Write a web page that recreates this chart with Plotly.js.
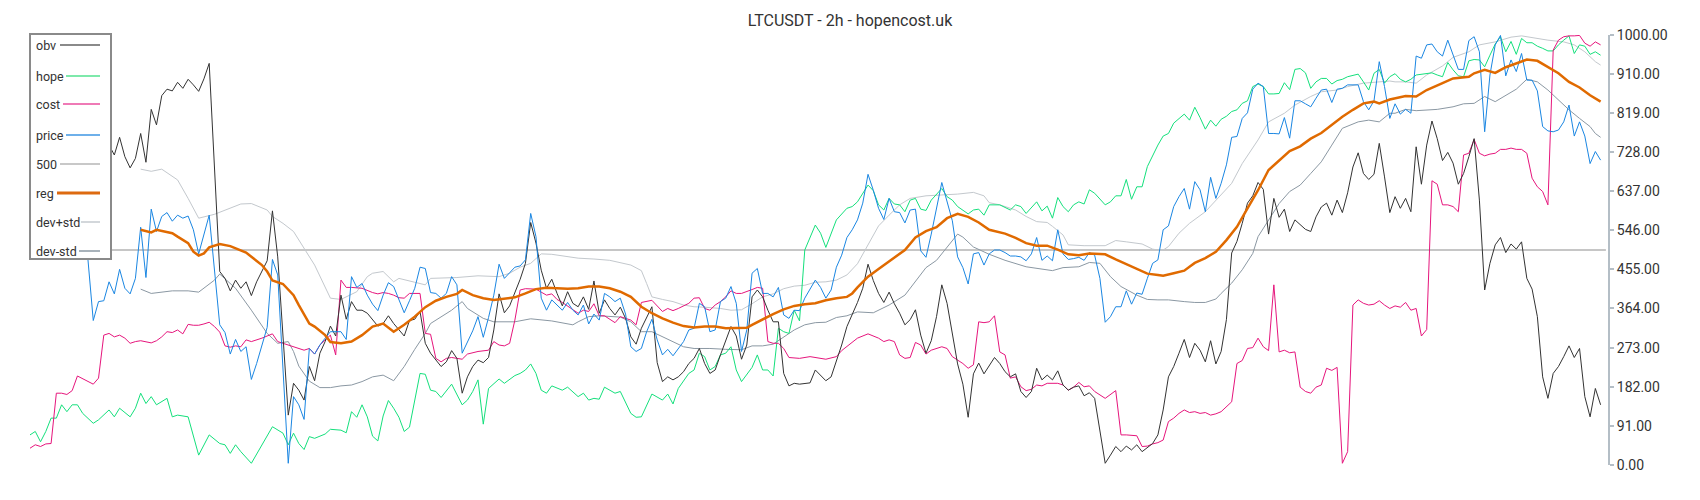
<!DOCTYPE html>
<html>
<head>
<meta charset="utf-8">
<script src="https://cdn.plot.ly/plotly-3.0.1.min.js"></script>
<style>html,body{margin:0;padding:0;background:#fff;}#chart{width:1700px;height:500px;}</style>
</head>
<body>
<div id="chart"></div>
<script>
// ---- data (x = bar index of the 2h series, y = normalised value 0..1000) ----
const obvIdx = [15,16,17,18,19,20,21,22,23,24,25,26,27,28,29,30,31,32,33,34,36,37,38,39,40,41,42,43,45,46,47,49,50,
51,52,53,54,55,56,57,58,59,60,61,62,63,64,65,66,67,68,69,70,71,72,73,74,75,76,77,78,79,80,81,82,83,84,85,86,87,88,89,90,91,92,93,94,95,96,97,98,99,100,101,102,103,
104,105,106,107,108,109,110,111,112,113,114,115,116,117,118,119,120,121,122,123,124,125,126,127,128,129,130,131,132,133,134,135,136,137,138,139,140,141,142,143,144,145,146,147,148,149,150,151,152,153,154,155,156,
157,158,159,160,161,162,163,164,165,166,167,168,169,170,171,172,173,174,175,176,177,178,179,180,181,182,183,184,185,186,187,188,189,190,191,192,193,194,195,196,197,198,199,200,201,202,204,205,206,207,208,209,
210,211,212,213,214,215,216,217,218,219,220,221,222,223,224,225,226,227,228,229,230,231,232,233,234,235,236,237,238,239,240,241,242,243,244,245,246,247,248,249,250,251,252,253,254,255,256,257,258,
259,260,261,262,263,264,265,266,267,268,269,270,271,272,273,274,275,276,277,278,279,280,281,282,283,284,285,286,287,288,289,290,291,292,293,294,295,296,297,298];
const obvVal = [744,721,762,717,691,713,771,704,827,791,859,874,870,890,876,897,884,869,898,934,450,434,405,430,411,426,394,426,475,591,484,116,190,
174,151,229,196,260,287,323,300,395,339,380,360,360,353,337,323,329,347,329,314,300,336,339,357,283,260,244,229,240,266,248,167,205,229,244,238,250,314,398,354,370,399,432,469,564,516,453,411,432,399,370,403,376,
368,391,362,428,353,384,364,349,367,341,298,281,318,345,368,238,194,205,198,205,217,236,248,271,236,213,221,256,287,322,300,246,279,391,407,391,360,333,333,213,184,190,188,190,191,221,209,196,205,240,279,322,349,
378,411,467,429,399,378,402,375,353,326,338,361,302,260,289,345,419,376,310,235,188,111,212,237,212,231,250,236,217,205,212,171,157,171,225,198,209,198,219,186,174,181,184,161,168,155,4,23,43,31,44,35,
47,31,41,50,70,128,205,229,260,292,250,283,267,240,289,235,264,338,493,520,562,609,626,657,641,537,620,576,595,543,570,558,548,543,577,600,609,581,616,587,633,693,726,678,664,676,748,670,587,
624,597,620,589,740,653,744,800,759,708,727,702,653,678,717,759,616,407,469,512,529,494,514,502,519,434,409,345,205,155,213,229,252,277,250,271,159,112,178,140];

const hopeIdx = [0,1,2,3,4,5,6,7,8,9,10,12,13,15,16,17,19,20,21,22,23,24,26,27,28,30,32,34,36,37,38,39,40,42,46,48,49,50,
51,52,53,54,56,57,59,60,61,62,63,64,65,66,67,68,69,70,71,72,74,75,76,77,78,80,82,83,84,85,86,87,89,90,92,93,94,95,96,97,98,99,101,102,
104,105,106,107,108,109,111,112,114,115,116,118,120,121,122,123,125,126,127,128,129,130,131,132,133,134,135,137,138,139,140,141,142,143,144,145,146,147,149,150,151,153,155,156,
157,158,159,160,161,162,163,164,165,166,167,168,169,170,171,173,174,175,176,178,179,180,181,182,184,186,187,188,189,191,192,193,194,195,196,197,198,199,200,201,202,204,205,206,207,208,209,
210,211,212,213,214,215,216,217,218,219,220,221,222,223,224,225,226,227,228,229,230,231,232,233,234,235,236,237,238,239,240,241,242,243,244,245,246,247,248,249,250,252,253,254,255,256,257,258,
259,260,261,262,263,264,265,266,267,268,269,270,271,272,273,274,275,276,277,278,279,280,281,282,283,284,285,286,287,288,289,290,291,292,293,294,295,296,297,298];
const hopeVal = [70,78,54,78,109,109,140,124,140,140,120,97,105,128,112,132,112,132,167,143,159,140,155,112,116,112,23,70,50,47,27,47,31,4,89,74,47,74,
50,36,66,62,72,83,81,75,124,111,140,112,67,56,114,150,132,111,78,88,213,211,174,171,157,188,140,151,171,198,95,178,200,190,208,213,221,235,213,174,167,184,174,181,
159,167,151,155,153,181,167,171,120,111,112,165,151,165,142,178,213,221,260,252,221,229,256,260,275,221,194,227,256,221,221,207,318,310,306,360,335,500,558,539,506,570,597,601,
612,632,651,638,605,593,620,607,605,589,616,620,595,592,616,643,624,616,601,584,593,595,581,605,605,593,605,601,585,612,591,602,574,622,601,589,605,612,607,640,632,605,612,626,626,664,618,
647,647,694,721,744,765,771,795,805,816,802,832,808,781,802,788,804,811,822,826,841,847,880,886,880,863,863,864,889,873,920,922,912,876,891,899,899,886,894,897,903,909,891,872,911,920,888,903,
910,897,891,897,907,909,911,912,907,903,936,919,905,903,940,943,942,926,953,979,996,961,985,955,992,982,982,974,969,963,963,977,988,998,957,977,974,955,961,953];

const costIdx = [0,1,2,3,4,5,6,7,8,9,12,13,14,15,16,17,18,19,20,21,23,24,25,26,27,28,29,30,31,32,33,34,35,36,37,38,39,40,41,42,44,45,46,47,49,
51,52,53,54,55,56,57,58,59,60,61,63,65,66,67,68,69,70,71,72,74,75,76,77,78,79,80,81,82,83,84,85,87,88,89,90,91,92,93,94,96,97,98,99,100,101,102,103,
104,105,106,107,108,109,111,112,114,115,116,118,120,121,122,123,125,126,127,128,129,130,131,132,133,134,135,137,138,139,140,141,142,143,144,146,148,151,153,154,
157,159,161,162,163,164,165,166,167,168,169,170,171,173,174,175,176,177,178,179,180,181,182,183,184,185,186,187,188,189,190,191,192,193,195,196,197,198,199,200,201,202,204,205,206,207,208,
210,211,212,213,214,215,216,217,218,219,220,221,222,223,224,225,226,227,228,229,230,231,232,233,234,235,236,237,238,239,240,241,242,243,244,245,246,247,248,249,250,251,252,253,254,255,256,257,258,
259,260,261,262,263,264,265,266,267,268,269,270,271,272,273,274,275,276,277,278,279,280,281,282,283,284,285,286,287,288,289,290,291,292,293,294,295,296,297,298];
const costVal = [39,47,43,49,50,167,167,164,173,207,188,202,302,306,298,302,295,283,287,289,284,289,298,310,308,314,305,327,325,325,328,332,322,309,277,274,277,275,291,287,295,300,305,287,279,
271,267,271,258,279,291,302,256,430,413,413,411,401,398,401,399,395,389,388,399,399,306,304,248,240,248,250,248,246,258,261,264,267,287,279,277,283,337,407,410,409,401,395,398,385,378,370,360,
353,360,357,375,347,347,331,345,337,326,378,383,357,364,359,364,376,388,389,364,360,372,380,391,405,399,399,408,413,411,287,283,283,271,250,248,252,246,252,266,
295,305,295,287,291,287,256,248,250,285,279,258,267,275,271,252,244,236,225,233,333,331,333,347,263,256,202,205,182,173,176,186,184,190,190,186,174,181,192,182,184,171,155,165,173,70,70,
68,43,44,49,52,58,101,109,120,128,122,124,120,122,116,119,124,136,147,236,243,271,273,295,275,266,419,263,267,261,263,181,171,167,181,186,225,220,227,4,31,372,384,376,372,374,382,372,364,
370,367,378,360,364,300,315,661,653,605,605,601,589,721,725,757,725,719,723,725,734,734,737,734,734,725,667,647,636,605,965,988,996,998,998,999,981,974,984,977];

const priceIdx = [10,11,12,13,14,15,16,17,18,19,20,21,22,23,24,25,26,27,28,29,30,31,32,34,36,37,38,39,40,41,42,43,45,46,47,49,50,
51,52,53,54,55,56,57,59,60,61,62,63,64,65,66,67,68,69,70,71,72,73,74,75,76,77,78,79,80,81,82,83,84,85,86,87,88,89,90,91,92,93,94,95,96,97,98,99,100,101,102,103,
104,105,106,107,108,109,110,111,112,113,114,115,116,117,118,119,120,121,122,123,124,125,126,127,128,129,130,131,132,133,134,135,136,137,138,139,140,141,142,143,144,145,146,147,149,150,151,152,153,154,155,156,
157,158,159,160,161,162,163,164,165,166,167,168,169,170,171,173,174,175,176,177,178,179,180,181,182,183,184,185,186,187,188,189,190,191,192,193,194,195,196,197,198,199,200,201,202,203,204,205,206,207,208,209,
210,211,212,213,214,215,216,217,218,219,220,221,222,223,224,225,226,227,228,229,230,231,232,233,234,235,236,237,238,239,240,241,242,243,244,245,246,247,248,249,250,252,253,254,255,256,257,258,
259,260,261,262,263,264,265,266,267,268,269,270,271,272,273,274,275,276,277,278,279,280,281,282,283,284,285,286,287,288,289,290,291,292,293,294,295,296,297,298];
const priceVal = [540,477,336,380,382,426,398,455,411,398,434,553,436,595,543,578,587,567,581,574,579,547,491,581,326,308,258,292,264,275,199,236,320,478,442,4,159,
140,106,271,258,279,295,310,310,292,438,413,422,395,374,359,395,424,415,385,354,382,411,460,457,401,399,388,399,438,419,260,287,312,345,297,343,395,467,434,447,460,463,477,585,531,388,360,384,372,360,378,360,
349,372,328,351,337,399,391,380,388,351,275,264,271,310,339,291,256,269,254,271,287,314,318,376,368,310,314,380,388,415,376,264,314,446,457,399,399,391,413,349,341,360,359,388,430,413,388,407,460,488,529,547,
570,609,676,639,597,571,620,589,587,563,593,595,498,483,537,657,609,568,484,459,421,491,494,465,491,500,500,494,486,486,484,475,491,529,476,486,475,547,491,478,480,483,476,494,488,434,332,345,368,368,405,374,
400,397,434,469,477,547,556,601,624,643,595,659,640,589,669,620,655,698,762,764,806,819,874,888,880,771,771,770,808,760,847,847,840,833,853,872,874,843,874,876,884,884,845,826,847,938,880,806,
840,816,827,818,951,946,977,979,961,951,988,953,920,920,987,996,961,775,907,977,999,905,942,915,957,895,895,870,787,777,775,779,798,837,765,798,765,701,729,709];

const regIdx = [21,23,24,27,28,30,31,32,33,34,36,38,41,42,44,45,46,48,50,51,53,54,56,57,59,61,63,65,67,69,71,73,75,77,79,81,82,84,86,88,92,94,96,98,102,
104,106,108,110,112,114,116,118,120,122,124,126,128,130,132,134,136,137,139,141,143,145,147,149,151,153,155,156,
157,159,161,163,166,168,170,172,174,176,178,180,182,185,187,189,191,193,195,197,199,201,204,206,208,210,212,
214,215,217,219,220,221,223,225,227,229,231,233,235,237,239,241,243,245,247,249,251,253,255,256,258,
259,261,263,265,268,270,273,274,276,278,280,282,284,286,288,290,292,294,296,298];
const regVal = [547,541,547,539,531,516,496,487,492,506,514,509,494,484,465,450,429,421,395,372,329,322,302,286,283,287,302,322,329,310,326,345,367,382,391,398,407,395,388,384,390,399,409,412,410,
411,415,415,411,403,391,368,353,341,331,323,320,322,322,318,318,319,326,339,351,362,370,374,376,383,388,391,399,
413,438,456,473,500,529,544,553,574,584,577,564,547,538,528,516,510,510,501,490,488,492,490,478,467,455,445,
442,440,446,452,461,470,481,496,523,554,597,639,686,707,730,741,759,772,791,810,826,841,845,841,850,
853,858,857,872,888,899,903,911,919,912,925,934,943,940,926,911,891,878,860,845];

const devUpIdx = [21,23,25,28,30,32,35,38,40,42,45,46,48,50,51,54,57,59,62,64,65,67,69,70,73,75,76,81,85,89,91,93,95,97,99,
104,107,110,114,116,117,118,120,122,124,126,128,131,133,135,137,139,141,143,145,147,149,151,153,155,157,158,159,160,161,
163,165,167,170,173,176,179,181,182,184,187,189,191,193,194,196,197,200,204,206,208,211,213,
214,215,216,218,220,223,225,228,230,233,235,238,240,243,245,248,250,253,256,258,
259,261,263,265,268,270,273,275,278,281,283,286,288,291,293,295,297,298];
const devUpVal = [688,683,688,663,620,574,583,598,607,608,593,578,562,543,523,465,388,385,403,438,446,450,426,434,425,419,434,436,440,438,446,460,469,491,490,
481,479,476,465,452,422,391,385,380,372,368,367,364,360,361,375,391,398,410,416,418,425,426,430,442,468,490,512,535,556,
581,605,620,626,628,630,634,626,610,605,593,578,566,564,555,535,512,510,510,522,519,514,502,
500,500,508,539,562,589,616,655,701,756,798,818,837,857,868,872,880,888,891,893,
891,891,888,907,928,948,961,977,984,995,998,992,988,984,977,961,938,930];

const devDnIdx = [21,23,27,30,32,35,36,39,42,45,47,49,50,51,53,55,57,59,61,63,65,67,69,71,73,75,76,80,82,83,86,88,92,95,99,103,
104,106,108,110,112,114,116,118,120,122,124,126,129,132,135,137,139,141,143,145,147,149,151,153,155,157,
160,163,166,168,170,172,174,176,177,179,182,185,189,191,194,196,199,201,203,205,207,210,212,
214,216,219,221,223,225,226,228,230,232,233,235,237,239,241,243,245,247,249,252,254,256,258,
259,261,263,265,267,270,272,274,276,278,280,282,284,286,288,290,292,294,296,297,298];
const devDnVal = [409,399,405,405,402,430,444,411,360,306,283,287,264,230,195,180,180,184,186,194,205,209,196,229,269,306,329,360,380,364,341,333,333,340,335,326,
333,345,347,345,344,333,310,310,298,287,275,271,271,269,268,277,277,281,298,314,326,331,332,343,347,356,
354,372,395,426,459,476,507,537,530,507,490,476,461,457,452,459,461,471,469,438,415,395,385,
384,384,380,378,378,386,399,423,454,492,531,570,608,636,651,678,705,744,783,798,802,798,818,
818,827,824,826,827,833,840,841,857,845,860,874,897,891,872,849,826,806,787,771,762];

const refIdx = [0, 299];
const refVal = [500, 500];

const tickValues = [0, 91, 182, 273, 364, 455, 546, 637, 728, 819, 910, 1000];
const tickLabels = ['0.00','91.00','182.00','273.00','364.00','455.00','546.00','637.00','728.00','819.00','910.00','1000.00'];

const seriesNames = ['obv','hope','cost','price','500','reg','dev+std','dev-std'];

// ---- styles ----
const lineColors = {obv:'#333333', hope:'#14e07c', cost:'#e6157c', price:'#1a86e2', '500':'#c6c6c6', reg:'#e06a00', 'dev+std':'#c3c8cd', 'dev-std':'#8b98a3'};
const legendColors = {obv:'#8a8a8a', hope:'#7ee9ab', cost:'#ef7ab6', price:'#6eb0ea', '500':'#c8c8c8', reg:'#dd6a10', 'dev+std':'#d3d7db', 'dev-std':'#a8b2ba'};
const widths = {obv:1, hope:1, cost:1, price:1, '500':2, reg:2.5, 'dev+std':1, 'dev-std':1};

function tr(name, x, y) {
  return {x: x, y: y, type: 'scatter', mode: 'lines', name: name, showlegend: false,
          hoverinfo: 'skip', line: {color: lineColors[name], width: widths[name]}};
}
const traces = [
  tr('500', refIdx, refVal),
  tr('dev+std', devUpIdx, devUpVal),
  tr('dev-std', devDnIdx, devDnVal),
  tr('hope', hopeIdx, hopeVal),
  tr('cost', costIdx, costVal),
  tr('obv', obvIdx, obvVal),
  tr('price', priceIdx, priceVal),
  tr('reg', regIdx, regVal)
];

// ---- manual legend (text left of the line sample) ----
const L = 30, R = 92, T = 35, B = 35, W = 1700, H = 500;
const pw = W - L - R, ph = H - T - B;
const px = v => (v - L) / pw;
const py = v => (H - B - v) / ph;
const shapes = [{type:'rect', xref:'paper', yref:'paper', x0:px(30), x1:px(111), y0:py(259), y1:py(34),
  line:{color:'#8a8a8a', width:2}, fillcolor:'#ffffff', layer:'above'}];
const annotations = [];
const itemY = [45, 76, 104, 135, 164, 193, 222, 251];
const lineStart = [60, 66, 63, 66, 60, 57, 81, 79];
seriesNames.forEach((n, k) => {
  annotations.push({xref:'paper', yref:'paper', x:px(34), y:py(itemY[k]), xanchor:'left', yanchor:'middle',
    text:n, showarrow:false, font:{family:'Roboto, sans-serif', size:12.5, color:'#333333'}});
  shapes.push({type:'line', xref:'paper', yref:'paper', x0:px(lineStart[k]), x1:px(100), y0:py(itemY[k]), y1:py(itemY[k]),
    line:{color:legendColors[n], width: n === 'reg' ? 3 : 2}, layer:'above'});
});

const layout = {
  width: W, height: H,
  margin: {l: L, r: R, t: T, b: B, pad: 0},
  paper_bgcolor: '#ffffff', plot_bgcolor: '#ffffff',
  showlegend: false,
  hovermode: false,
  title: {text: 'LTCUSDT - 2h - hopencost.uk', xref: 'container', x: 0.5, xanchor: 'center',
          yref: 'container', y: 0.96, yanchor: 'middle',
          font: {family: 'Roboto, sans-serif', size: 16, color: '#333333'}},
  xaxis: {range: [0, 299.4], visible: false, fixedrange: true},
  yaxis: {range: [0, 1000], side: 'right', showgrid: false, zeroline: false,
          showline: true, linecolor: '#b4bec6', linewidth: 2,
          ticks: 'outside', ticklen: 4, tickwidth: 2, tickcolor: '#b4bec6',
          tickmode: 'array', tickvals: tickValues, ticktext: tickLabels,
          tickfont: {family: 'Roboto, sans-serif', size: 14, color: '#333333'}, fixedrange: true},
  shapes: shapes,
  annotations: annotations
};

Plotly.newPlot('chart', traces, layout, {displayModeBar: false, staticPlot: true});
</script>
</body>
</html>
